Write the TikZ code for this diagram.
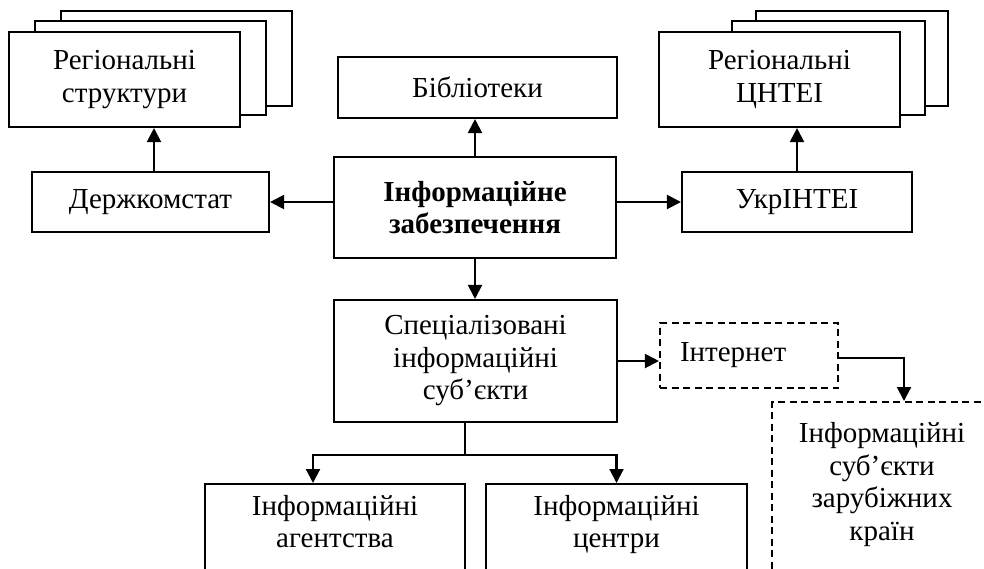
\documentclass[tikz,border=0pt]{standalone}
\usepackage{fontspec}
\setmainfont{Liberation Serif}
\usetikzlibrary{arrows.meta}

\begin{document}
\begin{tikzpicture}[x=1pt, y=-1pt, line width=2.1pt,
	font=\fontsize{29}{32.5}\selectfont,
	box/.style={draw, rectangle, fill=white, align=center, inner sep=0pt},
	dbox/.style={box, dash pattern=on 7pt off 4.5pt},
	arr/.style={-{Triangle[length=14pt, width=14pt]}}]
				\useasboundingbox (0,0) rectangle (984,568);
				\clip (0,0) rectangle (984,568);
				\node[box, minimum width=231pt, minimum height=95pt] (RS3)at(176.5, 58.5) {};
				\node[box, minimum width=231pt, minimum height=94pt] (RS2)at(150.5, 68) {};
				\node[box, minimum width=231pt, minimum height=95pt] (RS)at(124.5, 79.5) {Регіональні\\структури};
				\node[box, minimum width=192pt, minimum height=95pt] (RC3)at(852, 58.5) {};
				\node[box, minimum width=193pt, minimum height=94pt] (RC2)at(828.5, 68) {};
				\node[box, minimum width=241pt, minimum height=95pt] (RC)at(779.5, 79.5) {Регіональні\\ЦНТЕІ};
				\node[box, minimum width=279pt, minimum height=61pt] (BI)at(477.5, 87.5) {Бібліотеки};
				\node[box, minimum width=237pt, minimum height=60pt] (DK)at(150.5, 202) {Держкомстат};
				\node[box, minimum width=230pt, minimum height=60pt] (UK)at(797, 202) {УкрІНТЕІ};
				\node[box, minimum width=282pt, minimum height=101pt, font=\fontsize{29}{32.5}\selectfont\bfseries] (IZ)at(475, 207.5) {Інформаційне\\забезпечення};
				\node[box, minimum width=283pt, minimum height=122pt] (SI)at(475.5, 361) {Спеціалізовані\\інформаційні\\суб’єкти};
				\node[dbox, minimum width=178pt, minimum height=65pt, text width=138pt, inner xsep=20pt, align=left] (IN)at(749, 355.5) {Інтернет};
				\node[dbox, anchor=north, minimum width=220pt, inner ysep=21pt, text height=117pt, text depth=150pt] (ZK)at(882, 401) {Інформаційні\\суб’єкти\\зарубіжних\\країн};
				\node[box, anchor=north, minimum width=260pt, inner ysep=11pt, text height=52.5pt, text depth=120pt] (IA)at(335, 483) {Інформаційні\\агентства};
				\node[box, anchor=north, minimum width=261pt, inner ysep=11pt, text height=52.5pt, text depth=120pt] (IC)at(616.5, 483) {Інформаційні\\центри};
				\draw[arr] ([xshift=3.5pt]DK.north) -- ([xshift=3.5pt]DK.north |- RS.south);
				\draw[arr] (UK) -- (UK |- RC.south);
				\draw[arr] (IZ) -- (IZ |- BI.south);
				\draw[arr] (IZ) -- (IZ |- SI.north);
				\draw[arr] (IZ.west |- DK) -- (DK);
				\draw[arr] (IZ.east |- UK) -- (UK);
				\draw[arr] (SI.east) -- (SI.east -| IN.west);
				\draw[arr] ([yshift=-2.5pt]IN.east) -| ([xshift=22pt]ZK.north);
				\draw[arr] ([xshift=-10.5pt]SI.south) -- ++(0,32) -| ([xshift=-22pt]IA.north);
				\draw[arr] ([xshift=-10.5pt]SI.south) -- ++(0,32) -| (IC.north);
			\end{tikzpicture}
\end{document}
